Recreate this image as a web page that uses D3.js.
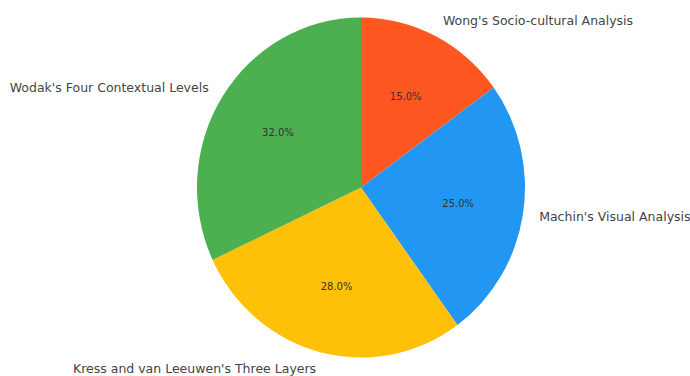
<!DOCTYPE html>
<html lang="en">
  <head>
    <meta charset="UTF-8" />
    <title>Pie chart</title>
    <script src="https://d3js.org/d3.v7.min.js"></script>
    <style>
      body {
        margin: 0;
        background: #fff;
      }
      .label {
        font-family: "DejaVu Sans", sans-serif;
        font-size: 12.5px;
        fill: #444;
      }
      .pct {
        font-family: "DejaVu Sans", sans-serif;
        font-size: 10px;
        fill: #333;
      }
    </style>
  </head>
  <body>
    <svg id="chart" width="690" height="376"></svg>
    <script>
      const categories = [
        "Wong's Socio-cultural Analysis",
        "Machin's Visual Analysis",
        "Kress and van Leeuwen's Three Layers",
        "Wodak's Four Contextual Levels"
      ];
      const values = [15, 25, 28, 32];
      const colors = ["#FF5722", "#2196F3", "#FFC107", "#4CAF50"];

      const width = 690;
      const height = 376;
      const cx = 361;
      const cy = 187.5;
      const rx = 164; // picture is a little stretched vertically
      const ry = 170;

      const data = categories.map((c, i) => ({ name: c, value: values[i], color: colors[i] }));
      const total = d3.sum(values);

      const svg = d3.select("#chart");

      const pie = d3.pie().value((d) => d.value).sort(null);
      const arcs = pie(data);

      const arc = d3.arc().innerRadius(0).outerRadius(rx);

      // wedges, scaled in y to match the slightly oval pie
      svg
        .append("g")
        .attr("transform", `translate(${cx},${cy}) scale(1,${ry / rx})`)
        .selectAll("path")
        .data(arcs)
        .enter()
        .append("path")
        .attr("d", arc)
        .attr("fill", (d) => d.data.color);

      function pos(d, k) {
        const a = (d.startAngle + d.endAngle) / 2;
        return [cx + k * rx * Math.sin(a), cy - k * ry * Math.cos(a)];
      }

      // outer labels
      svg
        .selectAll(".label")
        .data(arcs)
        .enter()
        .append("text")
        .attr("class", "label")
        .attr("x", (d) => pos(d, 1.1)[0])
        .attr("y", (d) => pos(d, 1.1)[1])
        .attr("dy", "0.35em")
        .attr("text-anchor", (d) => (pos(d, 1.1)[0] > cx ? "start" : "end"))
        .text((d) => d.data.name);

      // percentages
      svg
        .selectAll(".pct")
        .data(arcs)
        .enter()
        .append("text")
        .attr("class", "pct")
        .attr("x", (d) => pos(d, 0.6)[0])
        .attr("y", (d) => pos(d, 0.6)[1])
        .attr("dy", "0.35em")
        .attr("text-anchor", "middle")
        .text((d) => ((d.data.value / total) * 100).toFixed(1) + "%");
    </script>
  </body>
</html>
